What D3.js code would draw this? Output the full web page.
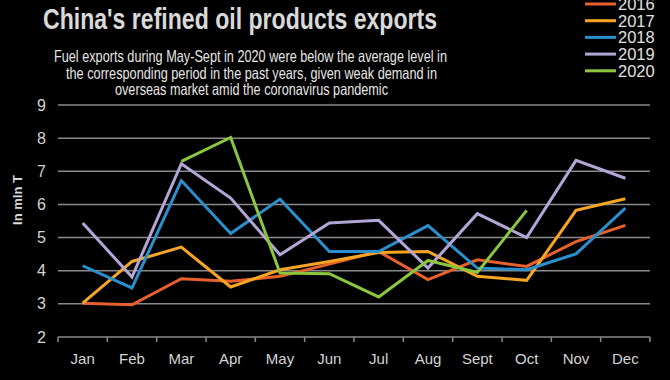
<!DOCTYPE html>
<html><head><meta charset="utf-8">
<script src="https://cdn.jsdelivr.net/npm/d3@7"></script>
<style>
html,body{margin:0;padding:0;background:#000;}
svg{display:block;}
</style></head>
<body>
<svg id="c" width="670" height="380"></svg>
<script>
const months = ["Jan","Feb","Mar","Apr","May","Jun","Jul","Aug","Sept","Oct","Nov","Dec"];
const yTicks = [2,3,4,5,6,7,8,9];
const years = ["2016","2017","2018","2019","2020"];
const colors = ["#e8612c","#f7a624","#2b8fcd","#b3a5d5","#8cc63f"];
const s2016 = [3.02,2.97,3.76,3.68,3.83,4.2,4.58,3.73,4.33,4.13,4.88,5.37];
const s2017 = [3.02,4.28,4.71,3.51,4.03,4.28,4.55,4.58,3.83,3.71,5.82,6.17];
const s2018 = [4.15,3.48,6.72,5.12,6.16,4.58,4.58,5.36,4.08,4.03,4.51,5.89];
const s2019 = [5.44,3.81,7.23,6.19,4.48,5.44,5.52,4.08,5.72,5.0,7.33,6.79];
const s2020 = [null,null,7.30,8.02,3.93,3.91,3.21,4.31,3.95,5.82,null,null];
const series = [s2016,s2017,s2018,s2019,s2020];

const svg = d3.select("#c");
svg.append("rect").attr("width",670).attr("height",380).attr("fill","#000");

const x = d3.scaleBand().domain(months).range([58,650]);
const y = d3.scaleLinear().domain([2,9]).range([337,105]);
const narrow = "'Liberation Sans Narrow','Arial Narrow','Liberation Sans',Arial,sans-serif";

// gridlines
svg.append("g").selectAll("line").data(yTicks.filter(d=>d>2)).join("line")
  .attr("x1",58).attr("x2",650).attr("y1",d=>y(d)).attr("y2",d=>y(d))
  .attr("stroke","#8a8a8a").attr("stroke-width",1.5);

// y axis labels
svg.append("g").selectAll("text").data(yTicks).join("text")
  .attr("x",46).attr("y",d=>y(d)+5.5).attr("text-anchor","end")
  .attr("fill","#d4d4d4").attr("font-family",narrow).attr("font-size",16).text(d=>d);

// x axis
const xAxis = svg.append("g").attr("transform","translate(0,337)")
  .call(d3.axisBottom(x).tickSize(0).tickPadding(0));
xAxis.select(".domain").attr("stroke","#8a8a8a").attr("stroke-width",1.5).attr("d","M58,0H650");
xAxis.selectAll(".tick text").remove();
// tick marks at category boundaries
const bounds = months.map(m=>x(m)).concat([650]);
xAxis.selectAll("line.bd").data(bounds).join("line").attr("class","bd")
  .attr("x1",d=>d).attr("x2",d=>d).attr("y1",0).attr("y2",5)
  .attr("stroke","#8a8a8a").attr("stroke-width",1.5);
svg.append("g").selectAll("text").data(months).join("text")
  .attr("x",d=>x(d)+x.bandwidth()/2).attr("y",364).attr("text-anchor","middle")
  .attr("fill","#d4d4d4").attr("font-family",narrow).attr("font-size",15).text(d=>d);

// y label
svg.append("text").attr("transform","translate(22,200) rotate(-90)")
  .attr("text-anchor","middle").attr("fill","#d9d9d9")
  .attr("font-family","'Liberation Sans',Arial,sans-serif").attr("font-weight","bold")
  .attr("font-size",13).text("In mln T");

// lines
const line = d3.line().defined(d=>d!=null)
  .x((d,i)=>x(months[i])+x.bandwidth()/2).y(d=>y(d));
series.forEach((s,k)=>{
  svg.append("path").datum(s).attr("d",line).attr("fill","none")
    .attr("stroke",colors[k]).attr("stroke-width",3).attr("stroke-linejoin","miter");
});

// title
svg.append("text").attr("x",43).attr("y",29)
  .attr("fill","#d9d9d9").attr("font-family","'Liberation Sans',Arial,sans-serif")
  .attr("font-weight","bold").attr("font-size",29)
  .attr("textLength",394).attr("lengthAdjust","spacingAndGlyphs")
  .text("China's refined oil products exports");

// subtitle
const sub = [
 ["Fuel exports during May-Sept in 2020 were below the average level in",54,393,62],
 ["the corresponding period in the past years, given weak demand in",66,371,79],
 ["overseas market amid the coronavirus pandemic",115,273,95]
];
svg.append("g").selectAll("text").data(sub).join("text")
  .attr("x",d=>d[1]).attr("y",d=>d[3]).attr("fill","#e6e6e6")
  .attr("font-family",narrow).attr("font-size",16.5)
  .attr("textLength",d=>d[2]).attr("lengthAdjust","spacingAndGlyphs")
  .text(d=>d[0]);

// legend
const lg = svg.append("g").selectAll("g").data(years).join("g")
  .attr("transform",(d,i)=>`translate(585,${4+i*16.7})`);
lg.append("line").attr("x1",0).attr("x2",31).attr("y1",0).attr("y2",0)
  .attr("stroke",(d,i)=>colors[i]).attr("stroke-width",3);
lg.append("text").attr("x",33).attr("y",6).attr("fill","#e0e0e0")
  .attr("font-family",narrow).attr("font-size",16.5).text(d=>d);
</script>
</body></html>
